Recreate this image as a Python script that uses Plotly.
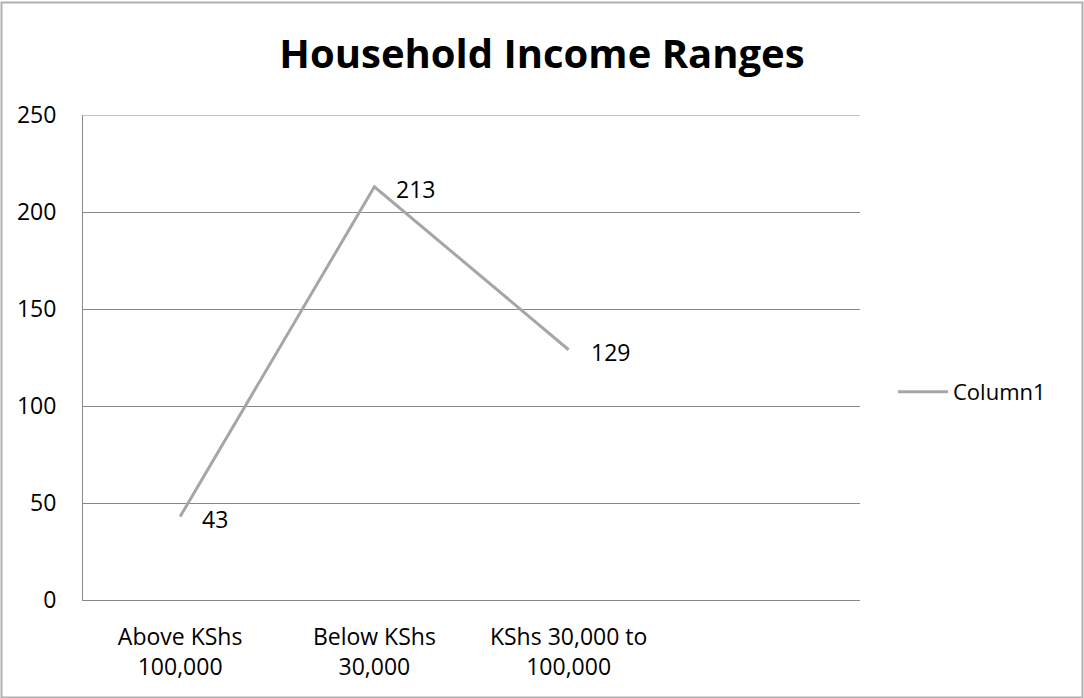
import plotly.graph_objects as go

# Income range categories (fourth slot left blank on the axis)
categories = ["Above KShs<br>100,000", "Below KShs<br>30,000", "KShs 30,000 to<br>100,000", ""]
counts = [43, 213, 129]
series_name = "Column1"
y_ticks = [0, 50, 100, 150, 200, 250]

W, H = 1084, 698
L, R, T, B = 83, 224, 115, 98
FONT = "Open Sans"
LINE_GREY = "#a6a6a6"
AXIS_GREY = "#888888"
TXT = 23

x_pos = list(range(len(counts)))

fig = go.Figure()
fig.add_trace(go.Scatter(
    x=x_pos, y=counts, mode="lines", name=series_name,
    line=dict(color=LINE_GREY, width=3),
))

# value labels to the right of each point
for xi, v in zip(x_pos, counts):
    fig.add_annotation(x=xi, y=v, xref="x", yref="y", text=str(v),
                       showarrow=False, xanchor="left", yanchor="middle",
                       xshift=20, yshift=-2,
                       font=dict(family=FONT, size=TXT, color="black"))

# gridline at the top of the value range (plotly skips grid at the plot edge)
fig.add_shape(type="line", xref="paper", yref="y", x0=0, x1=1,
              y0=y_ticks[-1], y1=y_ticks[-1],
              line=dict(color=AXIS_GREY, width=1), layer="below")

# outer chart border
pw, ph = W - L - R, H - T - B
fig.add_shape(type="rect", xref="paper", yref="paper",
              x0=(1.5 - L) / pw, x1=(1082.5 - L) / pw,
              y0=-(H - 0.5 - T - ph) / ph, y1=1 + (T - 2.5) / ph,
              line=dict(color="#b0b0b0", width=2), fillcolor="rgba(0,0,0,0)",
              layer="below")

fig.update_layout(
    width=W, height=H,
    margin=dict(l=L, r=R, t=T, b=B, pad=0),
    paper_bgcolor="white", plot_bgcolor="white",
    title=dict(text="<b>Household Income Ranges</b>", x=0.5, xanchor="center",
               y=1 - 54 / H, yanchor="middle",
               font=dict(family=FONT, size=40, color="black")),
    showlegend=True,
    legend=dict(x=1 + (893 - L - pw) / pw, xanchor="left", y=1 - (392 - T) / ph,
                yanchor="middle", font=dict(family=FONT, size=TXT - 1, color="black"),
                itemwidth=50, bgcolor="rgba(0,0,0,0)"),
    xaxis=dict(
        range=[-0.5, len(categories) - 0.5],
        tickvals=list(range(len(categories))), ticktext=categories,
        showgrid=False, zeroline=False, showline=True, linecolor=AXIS_GREY, linewidth=1,
        ticks="", ticklabelstandoff=16,
        tickfont=dict(family=FONT, size=TXT, color="black"),
    ),
    yaxis=dict(
        range=[0, 250], tickvals=y_ticks,
        showgrid=True, gridcolor=AXIS_GREY, gridwidth=1,
        zeroline=False, showline=True, linecolor=AXIS_GREY, linewidth=1,
        ticks="", ticklabelstandoff=21,
        tickfont=dict(family=FONT, size=TXT, color="black"),
    ),
)

fig.write_html("out.html")
